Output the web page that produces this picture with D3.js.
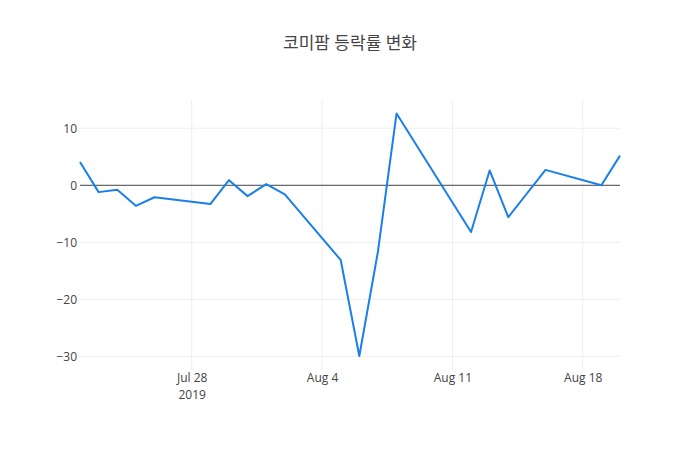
<!DOCTYPE html>
<html>
<head>
<meta charset="utf-8">
<script src="https://d3js.org/d3.v7.min.js"></script>
<style>
  body { margin: 0; background: #fff; }
  svg text { font-family: "Open Sans", "Noto Sans CJK KR", sans-serif; fill: #444; }
</style>
</head>
<body>
<div id="chart"></div>
<script>
  // trading days and daily change (%)
  var dates = ["2019-07-22", "2019-07-23", "2019-07-24", "2019-07-25", "2019-07-26",
               "2019-07-29", "2019-07-30", "2019-07-31", "2019-08-01", "2019-08-02",
               "2019-08-05", "2019-08-06", "2019-08-07", "2019-08-08", "2019-08-12",
               "2019-08-13", "2019-08-14", "2019-08-16", "2019-08-19", "2019-08-20"];
  var changes = [4.1, -1.2, -0.8, -3.6, -2.1,
                 -3.3, 0.9, -1.9, 0.2, -1.6,
                 -13.1, -29.95, -11.65, 12.6, -8.2,
                 2.6, -5.6, 2.7, 0.0, 5.2];
  var yTicks = [10, 0, -10, -20, -30];
  var xTicks = ["2019-07-28", "2019-08-04", "2019-08-11", "2019-08-18"];
  var title = "코미팜 등락률 변화";

  var W = 700, H = 450;
  var margin = {top: 100, right: 80, bottom: 80, left: 80};
  var parse = d3.timeParse("%Y-%m-%d");

  var data = dates.map(function(d, i) { return {date: parse(d), value: changes[i]}; });

  var svg = d3.select("#chart").append("svg")
              .attr("width", W)
              .attr("height", H);

  var x = d3.scaleTime()
            .domain(d3.extent(data, function(d) { return d.date; }))
            .range([margin.left, W - margin.right]);

  var y = d3.scaleLinear()
            .domain([-32.4, 14.96])
            .range([H - margin.bottom, margin.top]);

  // grid
  svg.append("g")
     .selectAll("line.vg")
     .data(xTicks.map(parse))
     .enter().append("line")
     .attr("x1", function(d) { return x(d); })
     .attr("x2", function(d) { return x(d); })
     .attr("y1", margin.top)
     .attr("y2", H - margin.bottom)
     .attr("stroke", "#eee")
     .attr("stroke-width", 1);

  svg.append("g")
     .selectAll("line.hg")
     .data(yTicks.filter(function(t) { return t !== 0; }))
     .enter().append("line")
     .attr("x1", margin.left)
     .attr("x2", W - margin.right)
     .attr("y1", function(d) { return y(d); })
     .attr("y2", function(d) { return y(d); })
     .attr("stroke", "#eee")
     .attr("stroke-width", 1);

  // zero line
  svg.append("line")
     .attr("x1", margin.left)
     .attr("x2", W - margin.right)
     .attr("y1", y(0))
     .attr("y2", y(0))
     .attr("stroke", "#444")
     .attr("stroke-width", 1);

  // y axis labels
  var yAxis = d3.axisLeft(y)
                .tickValues(yTicks)
                .tickSize(0)
                .tickPadding(3)
                .tickFormat(function(d) { return d < 0 ? "\u2212" + Math.abs(d) : d; });
  var gy = svg.append("g")
              .attr("transform", "translate(" + margin.left + ",0)")
              .call(yAxis);
  gy.select(".domain").remove();
  gy.selectAll("text").attr("font-size", 12).attr("font-family", null);

  // x axis labels
  var xAxis = d3.axisBottom(x)
                .tickValues(xTicks.map(parse))
                .tickSize(0)
                .tickPadding(3)
                .tickFormat(d3.timeFormat("%b %-d"));
  var gx = svg.append("g")
              .attr("transform", "translate(0," + (H - margin.bottom) + ")")
              .call(xAxis);
  gx.select(".domain").remove();
  gx.selectAll("text").attr("font-size", 12).attr("font-family", null);
  gx.selectAll(".tick")
    .filter(function(d, i) { return i === 0; })
    .append("text")
    .attr("y", 20)
    .attr("dy", "0.71em")
    .attr("font-size", 12)
    .attr("text-anchor", "middle")
    .text("2019");

  // line
  var line = d3.line()
               .x(function(d) { return x(d.date); })
               .y(function(d) { return y(d.value); });

  svg.append("path")
     .datum(data)
     .attr("d", line)
     .attr("fill", "none")
     .attr("stroke", "#1a7fea")
     .attr("stroke-width", 2)
     .attr("stroke-linejoin", "round");

  // title
  svg.append("text")
     .attr("x", W / 2)
     .attr("y", 49)
     .attr("text-anchor", "middle")
     .attr("font-size", 17)
     .text(title);
</script>
</body>
</html>
